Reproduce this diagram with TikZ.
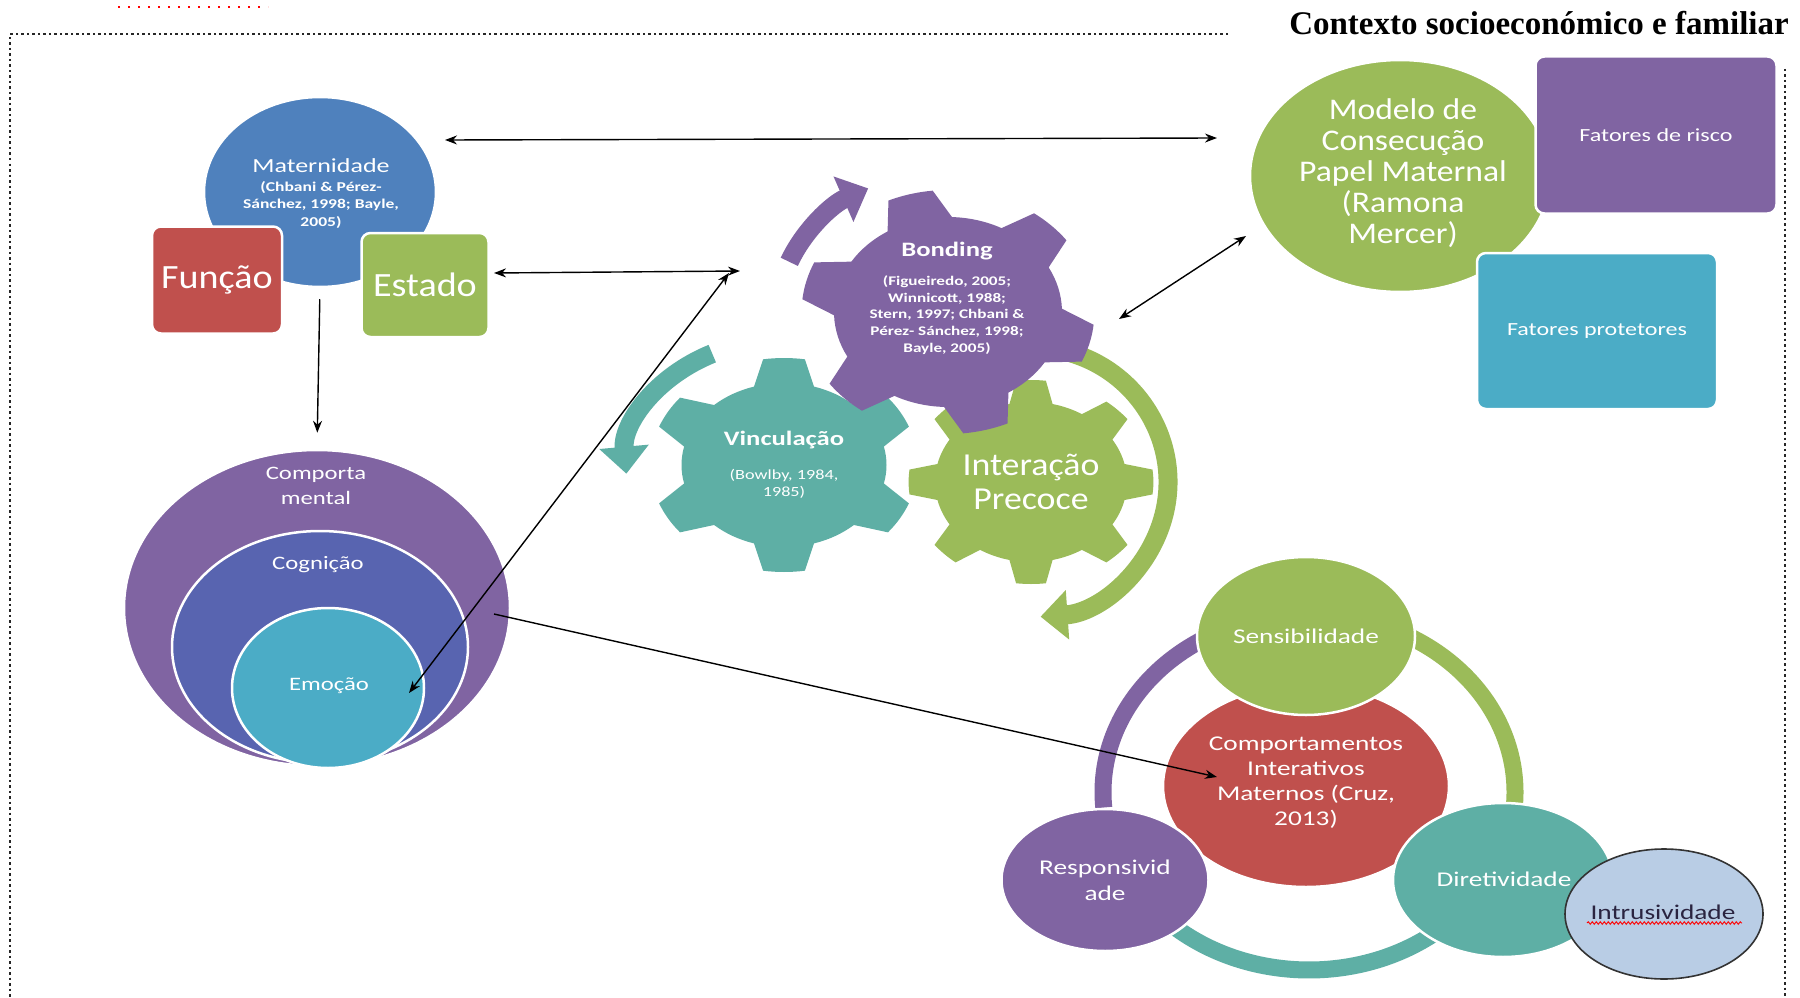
\documentclass[tikz,border=0pt]{standalone}
\usepackage{fontspec}
\setmainfont{Carlito}
\newfontfamily\fw[FakeStretch=1.3]{Carlito}
\newfontfamily\fm[FakeStretch=1.12]{Carlito}
\newfontfamily\ttl{Liberation Serif}
\usetikzlibrary{shapes.geometric,arrows.meta,decorations.pathmorphing}
\definecolor{cblue}{HTML}{4F81BD}
\definecolor{cred}{HTML}{C0504D}
\definecolor{cgreen}{HTML}{9BBB59}
\definecolor{cpurple}{HTML}{8064A2}
\definecolor{cindigo}{HTML}{5864B0}
\definecolor{caqua}{HTML}{4BACC6}
\definecolor{cteal}{HTML}{5EAFA5}
\definecolor{cpale}{HTML}{B9CDE5}
\definecolor{cdark}{HTML}{2A2440}
% #1 centre, #2 teeth, #3 body radius, #4 tip radius, #5 offset, #6 half base angle, #7 half tip angle, #8 colour, #9 xscale
\newcommand{\drawgear}[9]{%
  \begin{scope}[shift={(#1)}, xscale=#9]
    \pgfmathsetmacro{\gpitch}{360/#2}
    \fill[#8] ({#5-#6}:#3)
      \foreach \gi in {1,...,#2}{
        -- ({#5+(\gi-1)*\gpitch-#7}:#4)
        arc[start angle={#5+(\gi-1)*\gpitch-#7}, delta angle={2*#7}, radius=#4]
        -- ({#5+(\gi-1)*\gpitch+#6}:#3)
        arc[start angle={#5+(\gi-1)*\gpitch+#6}, delta angle={\gpitch-2*#6}, radius=#3]
      } -- cycle;
  \end{scope}}
\newcommand{\fs}[2]{\fontsize{#1}{#2}\selectfont}
\begin{document}
\begin{tikzpicture}[x=1pt,y=1pt,
  blob/.style={ellipse, draw=white, line width=2.5pt, inner sep=0pt},
  box/.style={rectangle, rounded corners=9pt, draw=white, line width=2.5pt, inner sep=0pt},
  lbl/.style={text=white, align=center, inner sep=0pt},
  link/.style={-{Stealth[length=12pt,width=9pt]}, line width=1.4pt, black},
  dlink/.style={{Stealth[length=12pt,width=9pt]}-{Stealth[length=12pt,width=9pt]}, line width=1.4pt, black},
  ring/.style={line width=17pt},
  turn/.style={line width=19pt, -{Triangle[width=48pt,length=27pt]}},
  frame/.style={line width=2.5pt, dash pattern=on 2.5pt off 3pt, black!85},
]
\useasboundingbox (0,0) rectangle (1800,-998);
\fill[white] (0,0) rectangle (1800,-998);
% frame
\draw[red, line width=2pt, dash pattern=on 2pt off 8pt] (118,-7) -- (268,-7);
\draw[frame] (1228,-34) -- (10,-34) -- (10,-998);
\draw[frame] (1785,-69) -- (1785,-998);
\node[anchor=center, inner sep=0pt, font=\ttl\bfseries\fs{33}{36}] (title) at (1539,-23) {Contexto socioeconómico e familiar};

% left cluster
\node[blob, fill=cblue, minimum width=232pt, minimum height=190pt] (mat) at (320,-192) {};
\node[lbl, font=\fw\fs{20}{24}] (matT) at (321,-166) {Maternidade};
\node[lbl, font=\fw\bfseries\fs{13.5}{17.5}] (matC) at (321,-205) {(Chbani \& Pérez-\\Sánchez, 1998; Bayle,\\2005)};
\node[box, fill=cred, minimum width=130pt, minimum height=107pt, font=\fm\fs{34}{36}, text=white] (func) at (217,-280) {Função};
\node[box, fill=cgreen, minimum width=127pt, minimum height=104pt, font=\fm\fs{34}{36}, text=white] (est) at (425,-285) {Estado};

\node[blob, fill=cpurple, minimum width=386pt, minimum height=316pt] (comp) at (317,-608) {};
\node[blob, fill=cindigo, minimum width=296pt, minimum height=232pt] (cog) at (320,-647) {};
\node[blob, fill=caqua, minimum width=192pt, minimum height=160pt] (emo) at (328,-688) {};
\node[lbl, font=\fw\fs{19}{25}] (compT) at (316,-486) {Comporta\\mental};
\node[lbl, font=\fw\fs{19}{25}] (cogT) at (318,-565) {Cognição};
\node[lbl, font=\fw\fs{19}{25}] (emoT) at (329,-686) {Emoção};

% gears and turning arrows
\draw[turn, cpurple] (948,-312) ++(159:170 and 140) arc[start angle=159, end angle=118, x radius=170, y radius=140];
\draw[turn, cteal] (784,-465) ++(117:158 and 125) arc[start angle=117, end angle=184, x radius=158, y radius=125];
\draw[turn, cgreen] (1031,-482) ++(76:137 and 135) arc[start angle=76, end angle=-86, x radius=137, y radius=135];
\drawgear{784,-465}{6}{82}{107}{90}{17}{9}{cteal}{1.25}
\drawgear{1031,-482}{8}{80}{102}{90}{13}{7}{cgreen}{1.2}
\drawgear{948,-312}{6}{95}{122}{105}{17}{9}{cpurple}{1.2}
\node[lbl, font=\fw\bfseries\fs{20.5}{24}] (bond) at (947,-251) {Bonding};
\node[lbl, font=\fw\bfseries\fs{13.2}{16.8}] (bondC) at (947,-315) {(Figueiredo, 2005;\\Winnicott, 1988;\\Stern, 1997; Chbani \&\\Pérez- Sánchez, 1998;\\Bayle, 2005)};
\node[lbl, font=\fw\bfseries\fs{20.5}{24}] (vinc) at (784,-440) {Vinculação};
\node[lbl, font=\fw\fs{14}{16.5}] (vincC) at (784,-484) {(Bowlby, 1984,\\1985)};
\node[lbl, font=\fm\fs{32}{34}] (inter) at (1031,-482) {Interação\\Precoce};

% right cluster
\node[blob, fill=cgreen, minimum width=300pt, minimum height=232pt] (mod) at (1400,-176) {};
\node[lbl, font=\fm\fs{30}{31}] (modT) at (1403,-173) {Modelo de\\Consecução\\Papel Maternal\\(Ramona\\Mercer)};
\node[box, fill=cpurple, minimum width=241pt, minimum height=157pt, font=\fw\fs{18.5}{22}, text=white] (risco) at (1656,-135) {Fatores de risco};
\node[box, fill=caqua, minimum width=240pt, minimum height=156pt, font=\fw\fs{18.5}{22}, text=white] (prot) at (1597,-331) {Fatores protetores};

% bottom cluster
\draw[ring, cpurple] (1309,-792) ++(118:206 and 178) arc[start angle=118, end angle=185, x radius=206, y radius=178];
\draw[ring, cgreen] (1309,-792) ++(-5:206 and 178) arc[start angle=-5, end angle=62, x radius=206, y radius=178];
\draw[ring, cteal] (1309,-792) ++(225:206 and 178) arc[start angle=225, end angle=310, x radius=206, y radius=178];
\node[blob, fill=cred, minimum width=286pt, minimum height=202pt] (cim) at (1306,-786) {};
\node[lbl, font=\fw\fs{21}{25}] (cimT) at (1306,-783) {Comportamentos\\Interativos\\Maternos (Cruz,\\2013)};
\node[blob, fill=cgreen, minimum width=218pt, minimum height=158pt, font=\fw\fs{21}{25}, text=white] (sens) at (1306,-636) {Sensibilidade};
\node[blob, fill=cpurple, minimum width=207pt, minimum height=142pt, font=\fw\fs{21}{26}, text=white, align=center] (resp) at (1105,-880) {Responsivid\\ade};
\node[blob, fill=cteal, minimum width=220pt, minimum height=154pt] (dir) at (1503,-880) {};
\node[ellipse, fill=cpale, draw=black!80, line width=1.6pt, minimum width=198pt, minimum height=130pt, inner sep=0pt] (intr) at (1664,-914) {};
\node[lbl, font=\fw\fs{21}{25}] (dirT) at (1504,-879) {Diretividade};
\node[inner sep=0pt, text=cdark, font=\fw\fs{21}{25}] (intrT) at (1663,-912) {Intrusividade};
\draw[red, line width=0.9pt, decorate, decoration={snake, amplitude=1.3pt, segment length=4pt}] (1587,-923) -- (1742,-923);

% connectors
\coordinate (tA) at (445,-140);
\coordinate (tB) at (1217,-138);
\coordinate (eA) at (494,-273);
\coordinate (gA) at (740,-271);
\coordinate (emA) at (409,-693);
\coordinate (gB) at (729,-273);
\coordinate (cA) at (494,-614);
\coordinate (cB) at (1217,-777);
\coordinate (gC) at (1119,-319);
\coordinate (mdA) at (1246,-236);
\draw[dlink] (tA) -- (tB);
\draw[dlink] (eA) -- (gA);
\draw[dlink] (emA) -- (gB);
\draw[link, shorten <=11pt, shorten >=16pt] (mat.south) -- (comp.north);
\draw[link] (cA) -- (cB);
\draw[dlink] (gC) -- (mdA);
\end{tikzpicture}
\end{document}
